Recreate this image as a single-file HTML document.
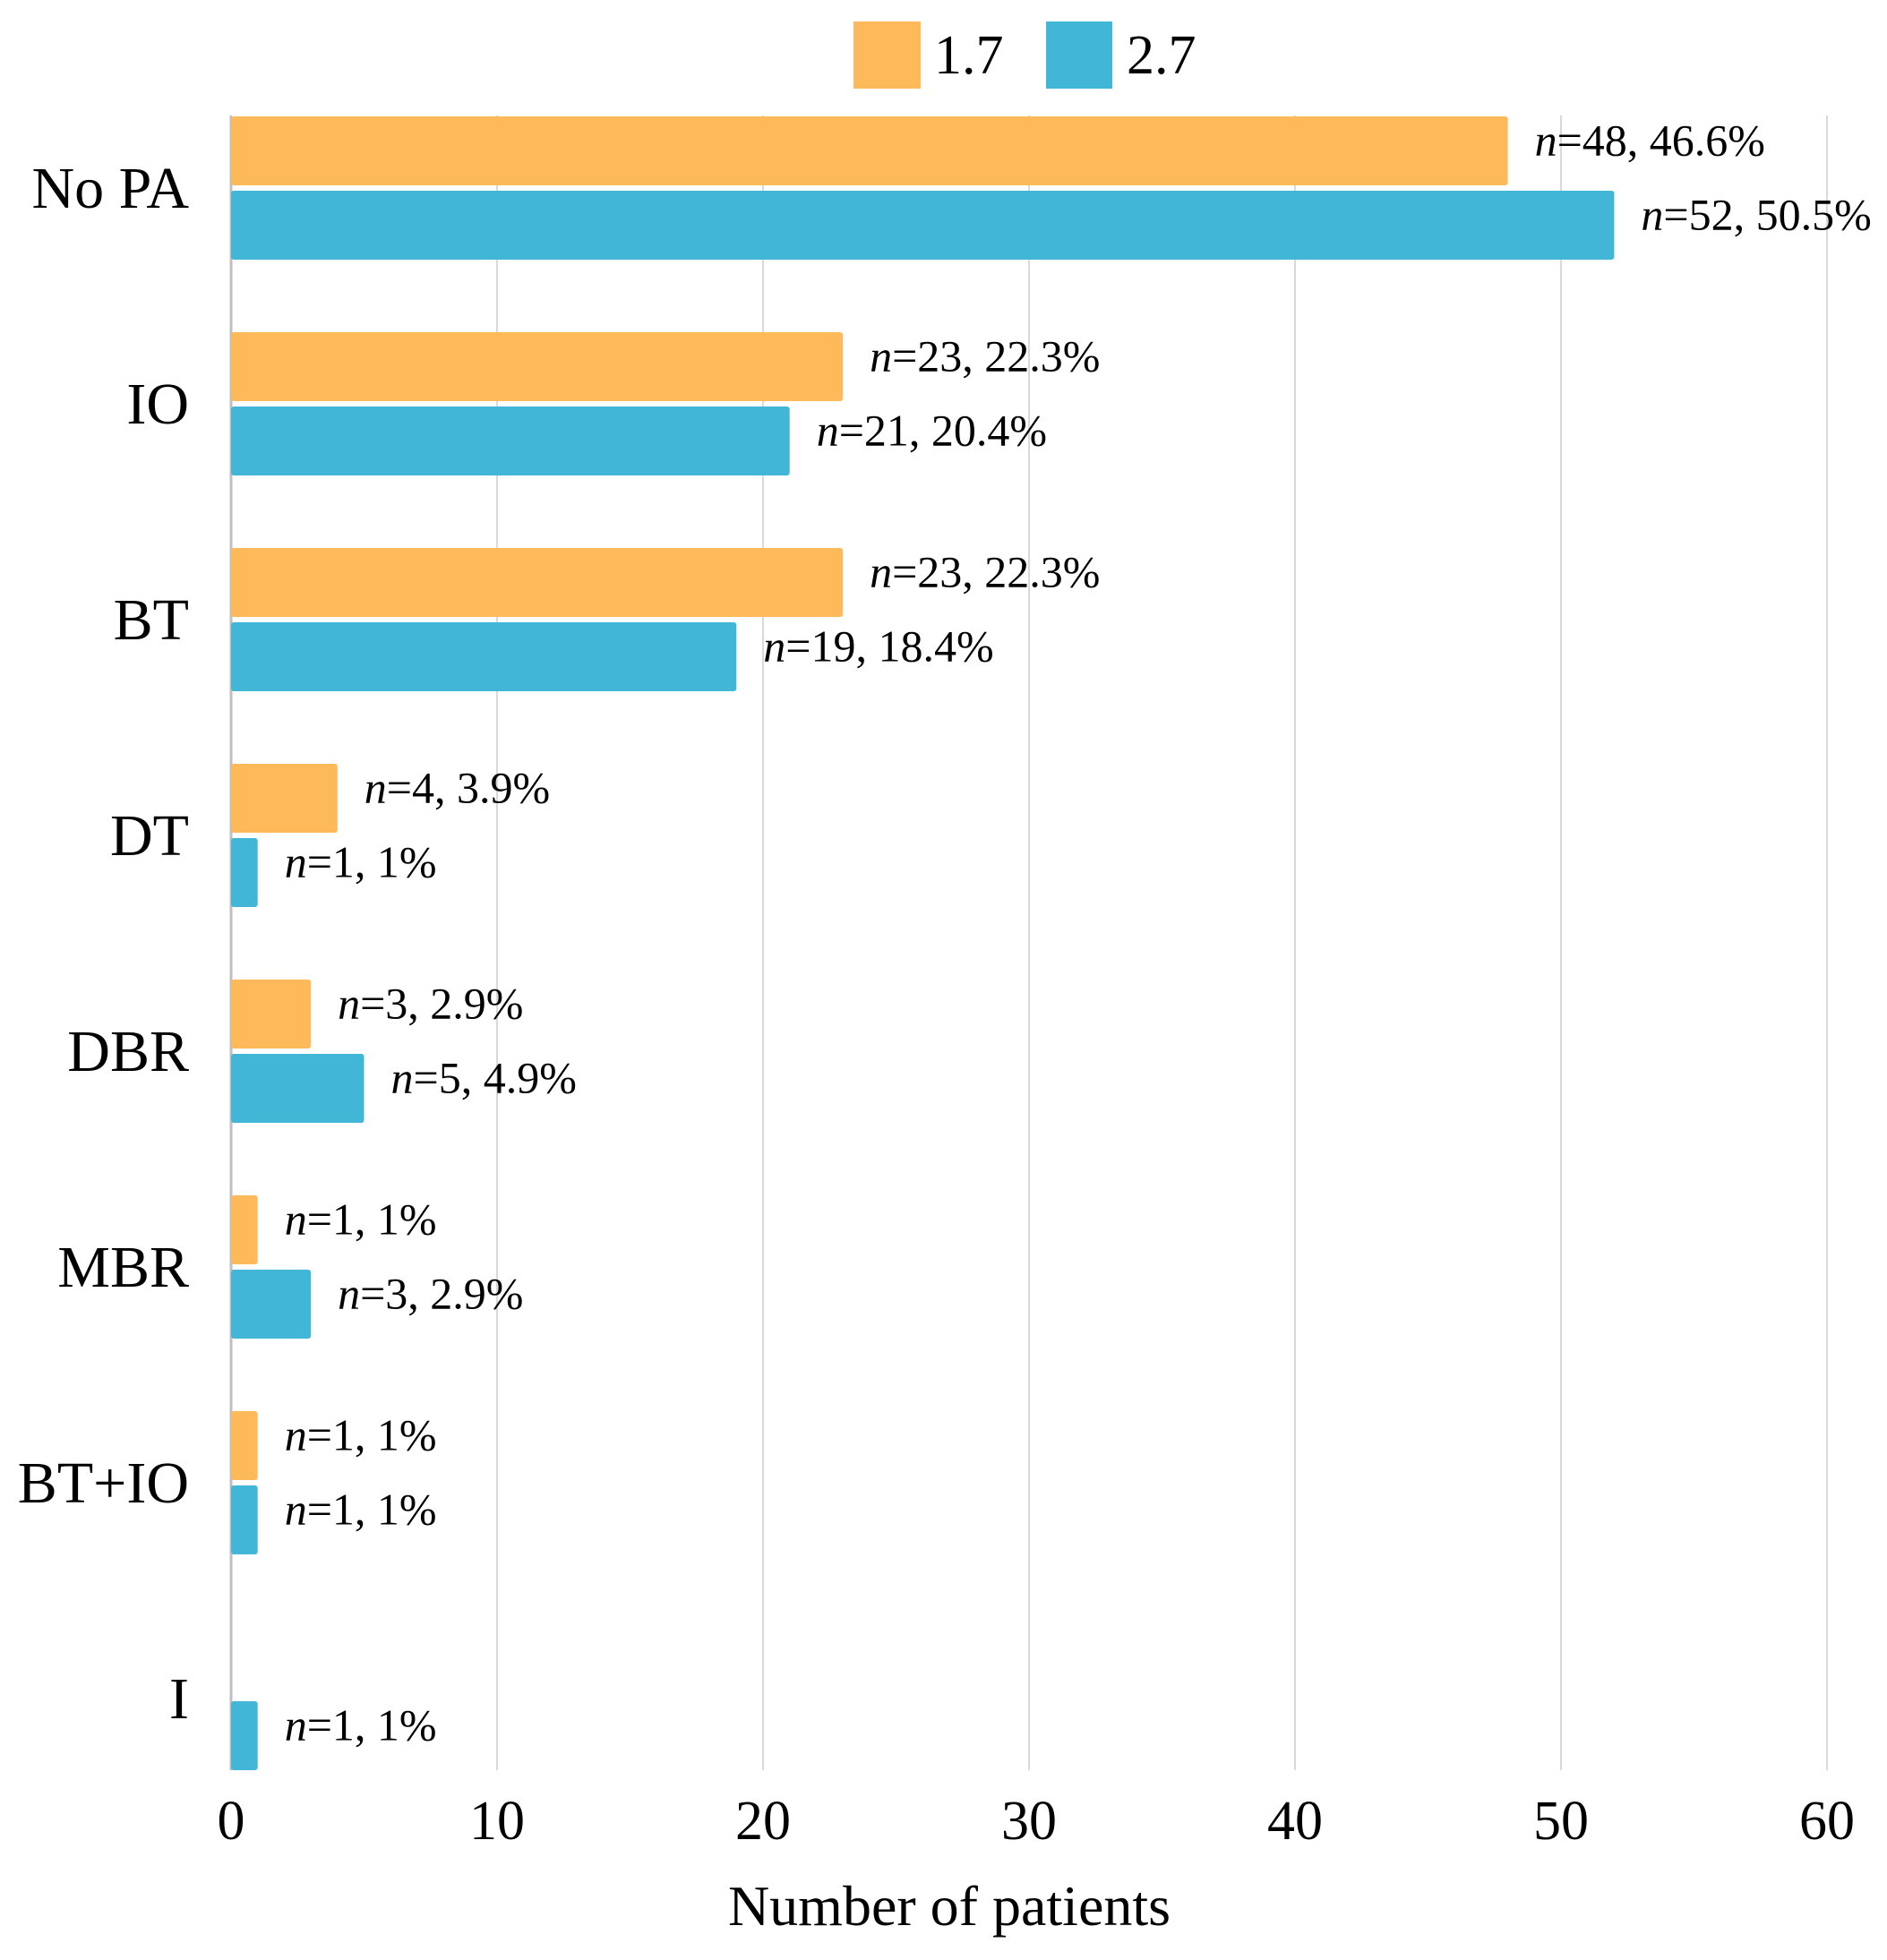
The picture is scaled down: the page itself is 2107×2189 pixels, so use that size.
<!DOCTYPE html>
<html><head><meta charset="utf-8"><style>
html,body{margin:0;padding:0;background:#fff;}
svg{display:block;font-family:"Liberation Serif",serif;}
</style></head><body>
<svg id="chart" width="2107" height="2189" viewBox="0 0 2107 2189">
<g>
<rect x="953" y="24" width="75" height="75" fill="#FDB95A"/>
<text x="1043" y="82" font-size="62">1.7</text>
<rect x="1168" y="24" width="74" height="75" fill="#41B6D6"/>
<text x="1258" y="82" font-size="62">2.7</text>
</g>
<g id="grid"></g><g id="bars"></g><g id="labels"></g><g id="cats"></g><g id="ticks"></g>
<text x="1060" y="2150" font-size="64" text-anchor="middle">Number of patients</text>
</svg>
<script>
const categories = ["No PA","IO","BT","DT","DBR","MBR","BT+IO","I"];
const series17 = [48,23,23,4,3,1,1,null];
const series27 = [52,21,19,1,5,3,1,1];
const labels17 = ["48, 46.6%","23, 22.3%","23, 22.3%","4, 3.9%","3, 2.9%","1, 1%","1, 1%",null];
const labels27 = ["52, 50.5%","21, 20.4%","19, 18.4%","1, 1%","5, 4.9%","3, 2.9%","1, 1%","1, 1%"];
const ticks = [0,10,20,30,40,50,60];

const NS="http://www.w3.org/2000/svg";
const x0=258, unit=29.7;
function xs(v){return x0+v*unit;}
function groupTop(i){return 130+i*241;}
const barH=77, off=83;
function mk(tag,attrs,parent){const e=document.createElementNS(NS,tag);for(const k in attrs)e.setAttribute(k,attrs[k]);document.getElementById(parent).appendChild(e);return e;}

ticks.forEach(t=>{
  const l=mk('line',{x1:xs(t),x2:xs(t),y1:129,y2:1977,stroke:t===0?'#bfbfbf':'#d9d9d9','stroke-width':t===0?3:2},'grid');
  
  
  const tx=mk('text',{x:xs(t),y:2054,'font-size':62,'text-anchor':'middle'},'ticks');
  tx.textContent=t;
  
  
});

function addLabel(v,lab,y,name){
  const t=mk('text',{x:xs(v)+30,y:y+5,'font-size':50},'labels');
  const ti=document.createElementNS(NS,'tspan');ti.setAttribute('font-style','italic');ti.textContent='n';
  t.appendChild(ti);t.appendChild(document.createTextNode('='+lab));
  
  
}

categories.forEach((c,i)=>{
  const top=groupTop(i);
  if(series17[i]!=null){
    const r=mk('rect',{x:x0,y:top,width:xs(series17[i])-x0,height:barH,fill:'#FDB95A',rx:3},'bars');
    
    
    addLabel(series17[i],labels17[i],top+barH/2,'value-label-1-7-'+i);
  }
  if(series27[i]!=null){
    const r=mk('rect',{x:x0,y:top+off,width:xs(series27[i])-x0,height:barH,fill:'#41B6D6',rx:3},'bars');
    
    
    addLabel(series27[i],labels27[i],top+off+barH/2,'value-label-2-7-'+i);
  }
  const ct=mk('text',{x:211,y:top+80+22,'font-size':66,'text-anchor':'end'},'cats');
  ct.textContent=c;
  
  
});
</script>
</body></html>
